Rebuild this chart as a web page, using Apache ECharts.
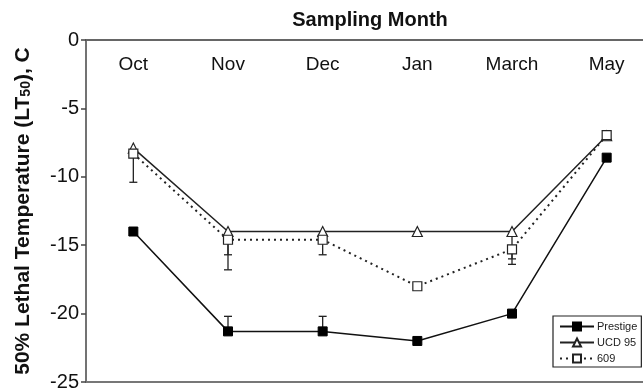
<!DOCTYPE html>
<html>
<head>
<meta charset="utf-8">
<script src="https://cdn.jsdelivr.net/npm/echarts@6/dist/echarts.min.js"></script>
<style>html,body{margin:0;padding:0;background:#fff;}#c{width:643px;height:388px;}</style>
</head>
<body>
<div id="c"></div>
<script>
const categories = ['Oct', 'Nov', 'Dec', 'Jan', 'March', 'May'];
const yTicks = [0, -5, -10, -15, -20, -25];
const prestige = [-14.0, -21.3, -21.3, -22.0, -20.0, -8.6];
const ucd95 = [-7.9, -14.0, -14.0, -14.0, -14.0, -7.0];
const s609 = [-8.3, -14.6, -14.6, -18.0, -15.3, -6.95];
// error bar end points (null = no bar)
const prestigeErrEnd = [null, -20.2, -20.2, null, null, null];
const ucd95ErrEnd = [null, -15.7, null, null, -16.0, null];
const s609ErrEnd = [-10.4, -16.8, -15.7, null, -16.4, null];

function errData(vals, ends) {
  const out = [];
  ends.forEach((e, i) => { if (e !== null) out.push([i, vals[i], e]); });
  return out;
}
function errSeries(vals, ends) {
  return {
    type: 'custom',
    xAxisIndex: 0,
    z: 1,
    silent: true,
    data: errData(vals, ends),
    encode: { x: 0, y: [1, 2] },
    renderItem: function (params, api) {
      const p1 = api.coord([api.value(0), api.value(1)]);
      const p2 = api.coord([api.value(0), api.value(2)]);
      const style = { stroke: '#222', lineWidth: 1.3 };
      return {
        type: 'group',
        children: [
          { type: 'line', shape: { x1: p1[0], y1: p1[1], x2: p2[0], y2: p2[1] }, style: style },
          { type: 'line', shape: { x1: p2[0] - 4, y1: p2[1], x2: p2[0] + 4, y2: p2[1] }, style: style }
        ]
      };
    }
  };
}

const FONT = 'Liberation Sans, Arial, sans-serif';
const chart = echarts.init(document.getElementById('c'), null, { renderer: 'canvas' });
chart.setOption({
  animation: false,
  backgroundColor: '#fff',
  textStyle: { fontFamily: FONT },
  grid: { left: 86, top: 40, bottom: 6, right: -11, containLabel: false, outerBoundsMode: 'none' },
  xAxis: [{
    type: 'category',
    position: 'top',
    data: categories,
    boundaryGap: true,
    name: 'Sampling Month',
    nameLocation: 'middle',
    nameGap: 10,
    nameTextStyle: { fontSize: 20, fontWeight: 'bold', color: '#111' },
    axisLine: { lineStyle: { color: '#666', width: 2 } },
    axisTick: { inside: true, length: 4, lineStyle: { color: '#666', width: 1.5 } },
    axisLabel: { inside: true, margin: 15, fontSize: 19, color: '#111' },
    splitLine: { show: false }
  }, {
    type: 'category',
    position: 'bottom',
    data: categories,
    axisLine: { lineStyle: { color: '#777', width: 2 } },
    axisTick: { show: false },
    axisLabel: { show: false }
  }],
  yAxis: {
    type: 'value',
    min: -25,
    max: 0,
    interval: 5,
    name: '{a|50% Lethal Temperature (LT}{s|50}{a|), C}',
    nameLocation: 'middle',
    nameGap: 52,
    nameTextStyle: {
      rich: {
        a: { fontSize: 21, fontWeight: 'bold', color: '#111', fontFamily: FONT },
        s: { fontSize: 14, fontWeight: 'bold', color: '#111', fontFamily: FONT, padding: [6, 0, 0, 0] }
      }
    },
    axisLine: { show: true, lineStyle: { color: '#444', width: 1.5 } },
    axisTick: { show: true, length: 5, lineStyle: { color: '#444', width: 1.5 } },
    axisLabel: { fontSize: 20, color: '#111', margin: 7 },
    splitLine: { show: false }
  },
  legend: {
    orient: 'vertical',
    left: 553,
    top: 316,
    padding: [5, 4, 3, 6],
    itemWidth: 34,
    itemHeight: 10,
    itemGap: 5,
    borderColor: '#222',
    borderWidth: 1.2,
    backgroundColor: '#fff',
    textStyle: { fontSize: 11, color: '#222', padding: [0, 0, 0, -2] },
    data: ['Prestige', 'UCD 95', '609']
  },
  series: [
    errSeries(prestige, prestigeErrEnd),
    errSeries(ucd95, ucd95ErrEnd),
    errSeries(s609, s609ErrEnd),
    {
      name: 'Prestige', type: 'line', data: prestige, z: 3,
      symbol: 'rect', symbolSize: 9,
      lineStyle: { color: '#111', width: 1.5 },
      itemStyle: { color: '#000', borderColor: '#000', borderWidth: 1 }
    },
    {
      name: 'UCD 95', type: 'line', data: ucd95, z: 3,
      symbol: 'triangle', symbolSize: [10, 10],
      lineStyle: { color: '#222', width: 1.5 },
      itemStyle: { color: '#fff', borderColor: '#222', borderWidth: 1.2 }
    },
    {
      name: '609', type: 'line', data: s609, z: 4,
      symbol: 'rect', symbolSize: 9,
      lineStyle: { color: '#222', width: 2, type: [2, 4] },
      itemStyle: { color: '#fff', borderColor: '#222', borderWidth: 1.2 }
    }
  ]
});
</script>
</body>
</html>
